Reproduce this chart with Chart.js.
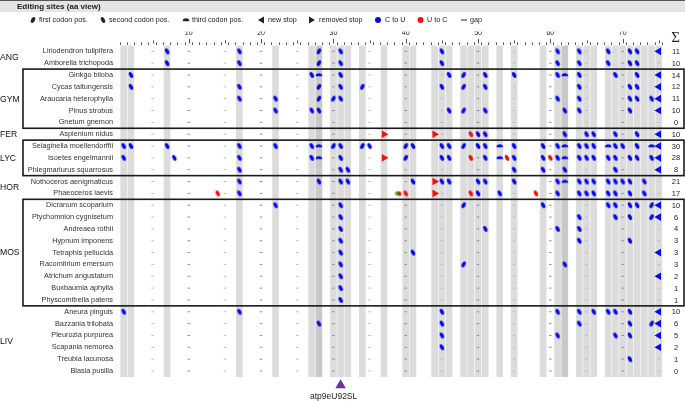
<!DOCTYPE html>
<html>
<head>
<meta charset="utf-8">
<script src="https://cdn.jsdelivr.net/npm/chart.js@4.4.1/dist/chart.umd.min.js"></script>
<style>
  html, body { margin: 0; padding: 0; background: #fff; }
  canvas { display: block; }
</style>
</head>
<body>
<canvas id="editChart" width="685" height="401"></canvas>
<script>
const species = ['Liriodendron tulipifera', 'Amborella trichopoda', 'Ginkgo biloba', 'Cycas taitungensis',
  'Araucaria heterophylla', 'Pinus strobus', 'Gnetum gnemon', 'Asplenium nidus', 'Selaginella moellendorffii',
  'Isoetes engelmannii', 'Phlegmariurus squarrosus', 'Nothoceros aenigmaticus', 'Phaeoceros laevis',
  'Dicranum scoparium', 'Ptychomnion cygnisetum', 'Andreaea rothii', 'Hypnum imponens', 'Tetraphis pellucida',
  'Racomitrium emersum', 'Atrichum angustatum', 'Buxbaumia aphylla', 'Physcomitrella patens', 'Aneura pinguis',
  'Bazzania trilobata', 'Pleurozia purpurea', 'Scapania nemorea', 'Treubia lacunosa', 'Blasia pusilla'];
const groupNames = ['ANG', 'GYM', 'FER', 'LYC', 'HOR', 'MOS', 'LIV'];
const groupFirst = [1, 3, 8, 9, 12, 14, 23];
const groupLast = [2, 7, 8, 11, 13, 22, 28];
const boxedGroups = ['GYM', 'LYC', 'MOS'];
const editCounts = [11, 10, 14, 12, 11, 10, 0, 10, 30, 28, 8, 21, 17, 10, 6, 4, 3, 3, 3, 2, 1, 1, 10, 6, 5, 2, 1, 0];
const siteCount = 75;
const tickLabels = [10, 20, 30, 40, 50, 60, 70];

// alignment columns shaded grey (two are darker)
const shadedSites = [1, 2, 7, 17, 22, 27, 28, 30, 31, 32, 34, 37, 40, 41, 44, 45, 46, 48, 49, 50, 51, 53, 55,
  59, 61, 62, 64, 65, 66, 68, 69, 70, 71, 72, 73, 74, 75];
const darkSites = [28, 62];

// C-to-U edits per species (site numbers)
const cToU = [
  [7, 17, 28, 31, 45, 61, 64, 68, 71, 72],
  [7, 17, 28, 31, 45, 61, 64, 68, 71, 72],
  [2, 27, 28, 31, 46, 48, 51, 55, 61, 62, 64, 69, 72],
  [2, 17, 28, 31, 34, 45, 48, 51, 64, 71, 72],
  [17, 22, 28, 30, 31, 61, 64, 71, 72, 74],
  [22, 27, 28, 46, 48, 51, 62, 64, 71],
  [],
  [50, 51, 62, 65, 66, 69, 72],
  [1, 2, 7, 17, 22, 27, 28, 30, 31, 34, 35, 40, 41, 45, 46, 48, 50, 51, 53, 55, 59, 61, 62, 64, 65, 66, 68, 69, 70, 72, 74],
  [1, 8, 17, 27, 28, 31, 40, 45, 46, 51, 53, 55, 59, 61, 62, 64, 65, 66, 68, 69, 71, 72, 74],
  [17, 31, 32, 55, 59, 62, 69],
  [17, 28, 31, 32, 41, 45, 46, 50, 51, 55, 61, 62, 64, 65, 66, 68, 69, 70, 71, 73],
  [17, 50, 53, 61, 64, 65, 66, 68, 69, 71, 73],
  [22, 31, 48, 59, 68, 69, 71, 72, 74],
  [31, 64, 69, 71, 74],
  [31, 51, 61, 64],
  [31, 64, 71],
  [31, 41],
  [31, 48, 62],
  [31],
  [31],
  [31],
  [1, 17, 45, 61, 64, 66, 68, 69, 71],
  [28, 45, 64, 71, 74],
  [45, 61, 69, 71],
  [45],
  [71],
  []
];
// [species row, site]
const uToC = [[8, 49], [10, 49], [10, 54], [10, 60], [13, 14], [13, 40], [13, 49], [13, 58]];
const firstCodonPos = [[1, 28], [2, 28], [3, 48], [4, 28], [4, 34], [4, 48], [5, 28], [5, 30], [6, 48],
  [9, 30], [9, 34], [9, 40], [9, 48], [10, 40], [14, 48], [14, 74], [15, 74], [19, 48], [24, 74]];
const thirdCodonPos = [[3, 28], [3, 62], [9, 28], [9, 53], [9, 62], [9, 68], [9, 74], [10, 28], [10, 53], [10, 62], [12, 62]];
const newStopRows = [1, 3, 4, 5, 6, 8, 9, 10, 11, 14, 15, 18, 20, 23, 24, 25, 26];
const newStopSite = 75;
const removedStops = [[8, 37], [8, 44], [10, 37], [12, 44], [13, 44]];
const mixedEdits = [[13, 39]];
const highlightSite = 31;
const highlightLabel = 'atp9eU92SL';

const FONT = '"Liberation Sans", Arial, sans-serif';
const BLUE = '#0808f0';
const RED = '#f21010';

function has(list, row, site) {
  return list.some(p => p[0] === row && p[1] === site);
}
function shapeOf(row, site) {
  if (has(firstCodonPos, row, site)) return 'f';
  if (has(thirdCodonPos, row, site)) return 't';
  return 's';
}

function drawMark(g, cx, cy, kind) {
  g.beginPath();
  if (kind === 't') {
    g.ellipse(cx, cy + 1.3, 3.3, 3, 0, Math.PI, 2 * Math.PI);
    g.closePath();
  } else {
    g.ellipse(cx, cy, 3.1, 1.8, (kind === 'f' ? -1 : 1) * Math.PI / 3, 0, 2 * Math.PI);
  }
  g.fill();
}
function markIcon(color, kind) {
  const c = document.createElement('canvas');
  c.width = 8; c.height = 8;
  const g = c.getContext('2d');
  g.fillStyle = color;
  drawMark(g, 4, 4, kind);
  return c;
}
function mixedIcon() {
  const c = document.createElement('canvas');
  c.width = 8; c.height = 8;
  const g = c.getContext('2d');
  g.fillStyle = '#22c022';
  g.beginPath(); g.ellipse(3, 4, 2.4, 2.2, 0, 0, 2 * Math.PI); g.fill();
  g.fillStyle = RED;
  g.beginPath(); g.ellipse(5, 4.3, 2.2, 2, Math.PI / 3, 0, 2 * Math.PI); g.fill();
  return c;
}

const icons = {
  blue: { f: markIcon(BLUE, 'f'), s: markIcon(BLUE, 's'), t: markIcon(BLUE, 't') },
  red: { f: markIcon(RED, 'f'), s: markIcon(RED, 's'), t: markIcon(RED, 't') }
};

const sites = Array.from({ length: siteCount }, (_, i) => i + 1);
const cToUPoints = [];
cToU.forEach((list, i) => list.forEach(site => cToUPoints.push({ x: site, y: i + 1, s: shapeOf(i + 1, site) })));
const uToCPoints = uToC.map(([row, site]) => ({ x: site, y: row, s: shapeOf(row, site) }));
const gridDots = [];
species.forEach((_, i) => sites.filter(v => v % 5 === 0).forEach(v => gridDots.push({ x: v, y: i + 1 })));

const decorations = {
  id: 'decorations',
  afterDraw(chart) {
    const { ctx, scales: { x, y }, chartArea } = chart;
    ctx.save();

    // title band
    ctx.fillStyle = '#e4e4e4';
    ctx.fillRect(0, 0, 685, 12);
    ctx.fillStyle = '#555';
    ctx.fillRect(0, 0, 685, 1);
    ctx.fillStyle = '#222';
    ctx.font = 'bold 8px ' + FONT;
    ctx.textBaseline = 'middle';
    ctx.fillText('Editing sites (aa view)', 17, 6.5);

    // legend row
    const ly = 20;
    ctx.font = '7.2px ' + FONT;
    ctx.fillStyle = '#222';
    ['first codon pos.', 'second codon pos.', 'third codon pos.'].forEach((t, i) => {
      const ix = [33, 103, 186][i];
      drawMark(ctx, ix, ly, ['f', 's', 't'][i]);
      ctx.fillText(t, ix + 6, ly);
    });
    ctx.beginPath(); ctx.moveTo(258, ly); ctx.lineTo(264, ly - 3.5); ctx.lineTo(264, ly + 3.5); ctx.fill();
    ctx.fillText('new stop', 268, ly);
    ctx.beginPath(); ctx.moveTo(315, ly); ctx.lineTo(309, ly - 3.5); ctx.lineTo(309, ly + 3.5); ctx.fill();
    ctx.fillText('removed stop', 319, ly);
    ctx.fillStyle = BLUE;
    ctx.beginPath(); ctx.arc(378, ly, 3, 0, 2 * Math.PI); ctx.fill();
    ctx.fillStyle = RED;
    ctx.beginPath(); ctx.arc(420.5, ly, 3, 0, 2 * Math.PI); ctx.fill();
    ctx.fillStyle = '#222';
    ctx.fillText('C to U', 385, ly);
    ctx.fillText('U to C', 427, ly);
    ctx.fillRect(461, ly - 0.5, 6, 1);
    ctx.fillText('gap', 470, ly);

    // longer ruler ticks every 5 and 10
    ctx.strokeStyle = '#555';
    ctx.lineWidth = 1;
    sites.filter(v => v % 5 === 0).forEach(v => {
      const px = Math.round(x.getPixelForValue(v)) + 0.5;
      ctx.beginPath();
      ctx.moveTo(px, chartArea.top - 2);
      ctx.lineTo(px, chartArea.top - (v % 10 === 0 ? 6.5 : 5));
      ctx.stroke();
    });

    // sigma column
    ctx.fillStyle = '#222';
    ctx.textAlign = 'center';
    ctx.font = '15px "Liberation Serif", serif';
    ctx.fillText('\u03A3', 675.5, 38.5);
    ctx.font = '7.5px ' + FONT;
    editCounts.forEach((n, i) => ctx.fillText(String(n), 676, y.getPixelForValue(i + 1) + 0.5));

    // group labels and boxes
    ctx.textAlign = 'left';
    ctx.font = '8.6px ' + FONT;
    ctx.fillStyle = '#111';
    groupNames.forEach((g, i) => {
      const yc = (y.getPixelForValue(groupFirst[i]) + y.getPixelForValue(groupLast[i])) / 2;
      ctx.fillText(g, 0, yc + 0.5);
      if (boxedGroups.includes(g)) {
        const top = y.getPixelForValue(groupFirst[i] - 0.5);
        const bottom = y.getPixelForValue(groupLast[i] + 0.5);
        ctx.strokeStyle = '#1a1a1a';
        ctx.lineWidth = 1.6;
        ctx.strokeRect(23, top, 661, bottom - top);
      }
    });

    // highlighted site label
    ctx.textAlign = 'center';
    ctx.font = '8.5px ' + FONT;
    ctx.fillStyle = '#222';
    ctx.fillText(highlightLabel, x.getPixelForValue(highlightSite) - 7, 396.5);
    ctx.restore();
  }
};

new Chart(document.getElementById('editChart').getContext('2d'), {
  type: 'scatter',
  data: {
    datasets: [
      {
        type: 'bar',
        data: shadedSites.map(v => ({ x: v, y: [0.5, 28.5] })),
        backgroundColor: ctx => darkSites.includes(ctx.raw && ctx.raw.x) ? '#c9c9c9' : '#dcdcdc',
        barThickness: 6,
        order: 10
      },
      {
        data: gridDots,
        pointStyle: 'line',
        radius: 1.2,
        borderWidth: 1,
        borderColor: ctx => (ctx.raw && ctx.raw.x % 10 === 0) ? '#8a8a8a' : '#b8b8b8',
        order: 5
      },
      {
        data: cToUPoints,
        pointStyle: ctx => icons.blue[ctx.raw ? ctx.raw.s : 's'],
        radius: 3,
        order: 1
      },
      {
        data: uToCPoints,
        pointStyle: ctx => icons.red[ctx.raw ? ctx.raw.s : 's'],
        radius: 3,
        order: 1
      },
      {
        data: mixedEdits.map(([row, site]) => ({ x: site, y: row })),
        pointStyle: mixedIcon(),
        radius: 3,
        order: 1
      },
      {
        data: newStopRows.map(row => ({ x: newStopSite, y: row })),
        pointStyle: 'triangle',
        rotation: -90,
        radius: 4.4,
        backgroundColor: BLUE,
        borderWidth: 0,
        order: 1
      },
      {
        data: removedStops.map(([row, site]) => ({ x: site, y: row })),
        pointStyle: 'triangle',
        rotation: 90,
        radius: 4.4,
        backgroundColor: RED,
        borderWidth: 0,
        order: 1
      },
      {
        data: [{ x: highlightSite, y: 29.2 }],
        pointStyle: 'triangle',
        radius: 6,
        hoverRadius: 10,
        backgroundColor: '#7030a0',
        borderWidth: 0,
        clip: false,
        order: 1
      }
    ]
  },
  options: {
    responsive: false,
    animation: false,
    events: [],
    layout: { autoPadding: false, padding: { left: 0, right: 18.9, top: 31.4, bottom: 24.1 } },
    plugins: { legend: { display: false }, tooltip: { enabled: false } },
    scales: {
      x: {
        type: 'linear',
        position: 'top',
        min: 0.5,
        max: siteCount + 0.5,
        afterBuildTicks: axis => { axis.ticks = sites.map(v => ({ value: v })); },
        afterFit: scale => { scale.height = 14; },
        grid: { drawOnChartArea: false, tickLength: 3, tickColor: '#555', tickWidth: 1 },
        border: { display: false },
        ticks: {
          autoSkip: false,
          maxRotation: 0,
          padding: 5.2,
          color: '#222',
          font: { size: 7, family: FONT },
          callback: v => tickLabels.includes(v) ? String(v) : ''
        }
      },
      y: {
        type: 'linear',
        min: 0.5,
        max: species.length + 0.5,
        reverse: true,
        afterBuildTicks: axis => { axis.ticks = species.map((_, i) => ({ value: i + 1 })); },
        afterFit: scale => { scale.width = 116.4; },
        grid: { display: false, drawTicks: false },
        border: { display: false },
        ticks: {
          autoSkip: false,
          padding: 3.4,
          color: '#333',
          font: { size: 7.3, family: FONT },
          callback: v => species[v - 1]
        }
      }
    }
  },
  plugins: [decorations]
});
</script>
</body>
</html>
